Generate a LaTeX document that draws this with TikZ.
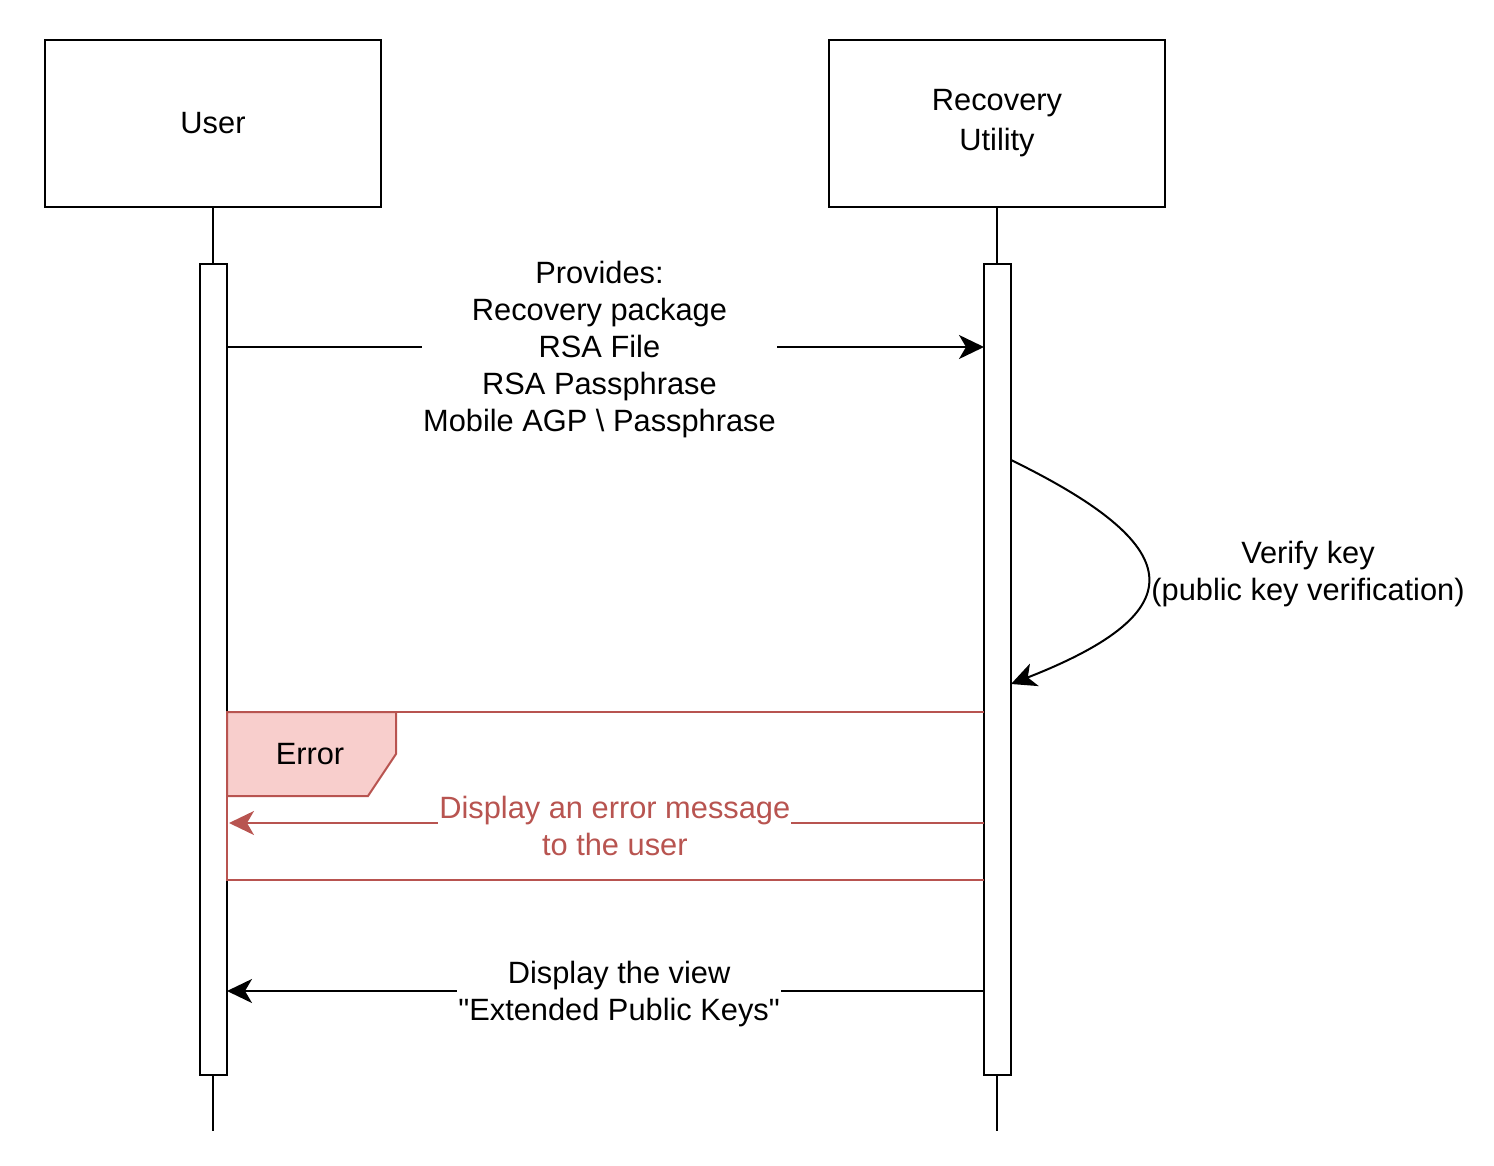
\documentclass[tikz,border=0pt]{standalone}
\usepackage{fontspec}
\setmainfont{Liberation Sans}[Ligatures=TeXOff]
\usetikzlibrary{arrows.meta}
\definecolor{errred}{HTML}{B85450}
\definecolor{errfill}{HTML}{F8CECC}
\tikzset{
  actor/.style={draw=black, line width=2pt, fill=white, minimum width=336pt, minimum height=167pt, align=center, inner sep=0pt},
  bar/.style={draw=black, line width=2pt, fill=white, minimum width=27pt, minimum height=811pt, inner sep=0pt},
  life/.style={draw=black, line width=2pt},
  msg/.style={draw=black, line width=2pt, -{Stealth[length=25pt,width=24pt,inset=7pt]}},
  errmsg/.style={draw=errred, line width=2pt, -{Stealth[length=25pt,width=24pt,inset=7pt]}},
  lbl/.style={fill=white, align=center, inner xsep=1pt, inner ysep=0pt, yshift=-3pt},
  txt/.style={font=\fontsize{30.8}{37}\selectfont},
}
\begin{document}
\begin{tikzpicture}[x=1pt, y=-1pt, txt]
\useasboundingbox (0,0) rectangle (1494,1166);
% actors
\node[actor] (user) at (213,123.5) {User};
\node[actor] (ru) at (997,123.5) {Recovery\\[3pt]Utility};
% lifelines
\coordinate (userend) at (213,1131);
\coordinate (ruend) at (997,1131);
\draw[life] (user.south) -- (userend);
\draw[life] (ru.south) -- (ruend);
% activation bars
\node[bar] (ubar) at (213.5,669.5) {};
\node[bar] (rbar) at (997.5,669.5) {};
% error frame
\coordinate (ftl) at (227,712);
\coordinate (ftr) at (984,712);
\coordinate (fbl) at (227,880);
\coordinate (fbr) at (984,880);
\draw[errred, line width=2pt] (ftr) -- (ftl) -- (fbl) -- (fbr);
\path[draw=errred, fill=errfill, line width=2pt] (227,712) -- (396,712) -- (396,754) -- (368,796) -- (227,796) -- cycle;
\node (errlbl) at (310,754) {Error};
% message 1
\coordinate (m1s) at (227,347);
\coordinate (m1e) at (984,347);
\draw[msg] (m1s) -- (m1e) node[lbl, pos=0.492] (m1l) {Provides:\\Recovery package\\RSA File\\RSA Passphrase\\Mobile AGP \textbackslash{} Passphrase};
% self message
\coordinate (s1) at (1011,460);
\coordinate (s2) at (1011,684);
\draw[msg] (s1) .. controls (1185,545) and (1200,610) .. (s2);
\node[align=center, yshift=-3pt] (slbl) at (1308,571) {Verify key\\(public key verification)};
% error message
\coordinate (e1) at (984,823);
\coordinate (e2) at (229,823);
\draw[errmsg] (e1) -- (e2) node[lbl, text=errred, pos=0.489] (el) {Display an error message\\to the user};
% return message
\coordinate (r1) at (984,991);
\coordinate (r2) at (227,991);
\draw[msg] (r1) -- (r2) node[lbl, pos=0.482] (rl) {Display the view\\"Extended Public Keys"};
\end{tikzpicture}
\end{document}
